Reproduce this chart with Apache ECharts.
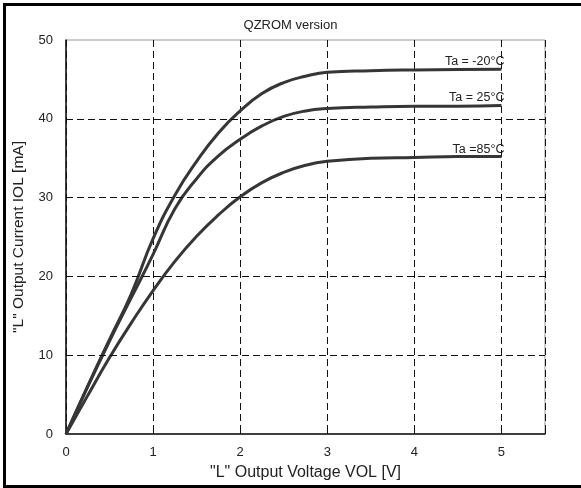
<!DOCTYPE html>
<html><head><meta charset="utf-8">
<script src="https://cdn.jsdelivr.net/npm/echarts@6/dist/echarts.min.js"></script>
<style>html,body{margin:0;padding:0;background:#fff}#c{width:581px;height:488px}</style>
</head><body><div id="c"></div>
<script>
var voltages = [0, 0.25, 0.5, 0.75, 1.0, 1.25, 1.5, 1.75, 2.0, 2.25, 2.5, 2.75, 3.0, 3.5, 4.0, 4.5, 5.0];
var curM20 = [0, 6.1, 12.0, 17.8, 24.8, 30.3, 34.6, 38.2, 41.0, 43.2, 44.6, 45.4, 45.9, 46.1, 46.2, 46.25, 46.3];
var cur25  = [0, 6.0, 11.8, 17.3, 22.8, 28.6, 32.4, 35.3, 37.4, 39.1, 40.3, 41.0, 41.3, 41.5, 41.6, 41.6, 41.7];
var cur85  = [0, 4.9, 9.7, 14.1, 18.2, 21.9, 25.1, 27.8, 30.1, 31.9, 33.2, 34.1, 34.6, 35.0, 35.1, 35.2, 35.2];
var seriesNames = ['Ta = -20°C', 'Ta = 25°C', 'Ta =85°C'];
var yGridValues = [10, 20, 30, 40];
var FONT = 'Liberation Sans, Arial, sans-serif';

var data = [curM20, cur25, cur85];
var series = data.map(function (d, i) {
  var last = d.length - 1;
  return {
    type: 'line', name: seriesNames[i],
    data: d.map(function (v, k) { return [voltages[k], v]; }),
    smooth: true, showSymbol: false, symbol: 'none',
    lineStyle: { color: '#363636', width: 3 },
    silent: true, animation: false, z: 3,
    markPoint: {
      silent: true, symbol: 'circle', symbolSize: 0,
      data: [{ coord: [voltages[last], d[last]] }],
      label: { show: true, position: 'top', align: 'right', distance: 1, offset: [3, 0],
        formatter: seriesNames[i], color: '#222', fontSize: 12.5, fontFamily: FONT }
    }
  };
});
series.push({
  type: 'line', data: [], silent: true, animation: false,
  markLine: { silent: true, symbol: 'none', label: { show: false },
    lineStyle: { color: '#111', width: 1, type: [7, 4] },
    data: yGridValues.map(function (v) { return { yAxis: v }; }) }
});

var chart = echarts.init(document.getElementById('c'), null, { renderer: 'canvas' });
chart.setOption({
  animation: false,
  backgroundColor: '#fff',
  title: { text: 'QZROM version', left: 'center', top: 14,
    textStyle: { fontSize: 13, fontWeight: 'normal', color: '#222', fontFamily: FONT } },
  grid: { left: 66, right: 36, top: 40, bottom: 54, show: true, borderColor: '#999', borderWidth: 1, backgroundColor: 'transparent' },
  xAxis: {
    type: 'value', min: 0, max: 5.5, interval: 1,
    name: '"L" Output Voltage VOL [V]', nameLocation: 'middle', nameGap: 31,
    nameTextStyle: { fontSize: 16, color: '#222', fontFamily: FONT },
    axisLine: { show: true, lineStyle: { color: '#111', width: 1.5 } },
    axisTick: { show: true, inside: true, length: 7, lineStyle: { color: '#111' } },
    axisLabel: { fontSize: 13, color: '#222', fontFamily: FONT, margin: 12,
      formatter: function (v) { return v > 5 ? '' : String(v); } },
    splitLine: { show: true, lineStyle: { color: '#111', width: 1, type: [7, 4] } }
  },
  yAxis: {
    type: 'value', min: 0, max: 50, interval: 10,
    name: '"L" Output Current IOL [mA]', nameLocation: 'middle', nameGap: 39,
    nameTextStyle: { fontSize: 15.5, color: '#222', fontFamily: FONT },
    axisLine: { show: true, lineStyle: { color: '#111', width: 1.5 } },
    axisTick: { show: false },
    axisLabel: { fontSize: 13, color: '#222', fontFamily: FONT, margin: 13 },
    splitLine: { show: false }
  },
  graphic: [{
    type: 'rect', silent: true, z: 100,
    shape: { x: 4.5, y: 4.5, width: 700, height: 482 },
    style: { fill: 'none', stroke: '#000', lineWidth: 3 }
  }],
  series: series
});
</script></body></html>
